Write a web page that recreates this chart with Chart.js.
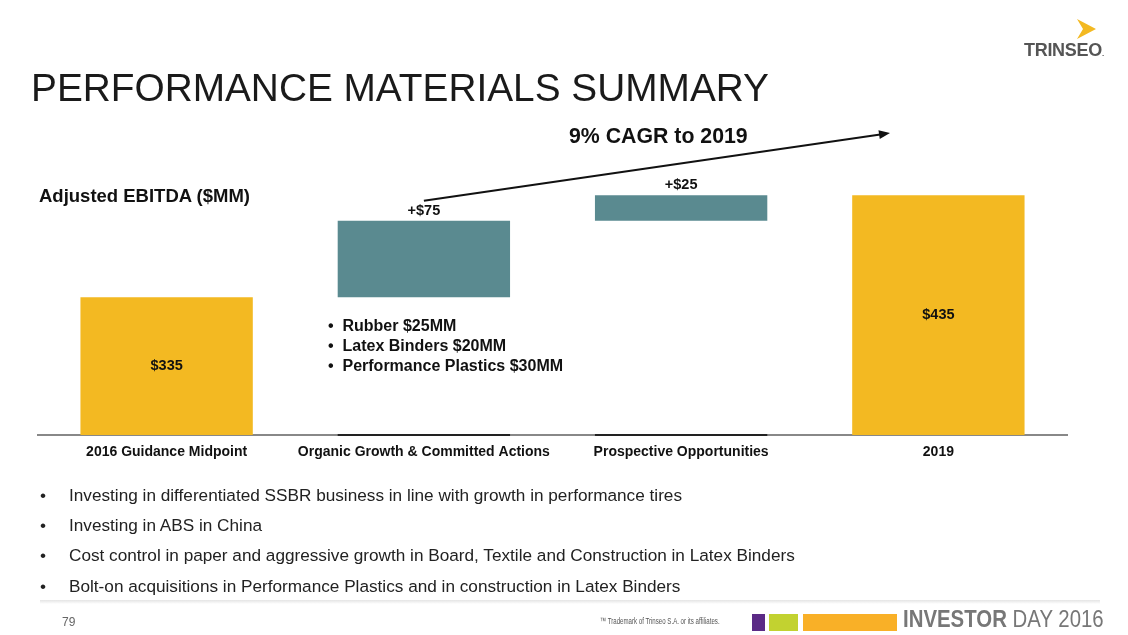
<!DOCTYPE html>
<html>
<head>
<meta charset="utf-8">
<script src="https://cdn.jsdelivr.net/npm/chart.js@4.4.0/dist/chart.umd.min.js"></script>
<style>
  html, body { margin: 0; padding: 0; background: #fff; }
  body { width: 1128px; height: 635px; position: relative; overflow: hidden; font-family: "Liberation Sans", Arial, sans-serif; color: #111; }
  #wrap { position: absolute; left: 0; top: 0; width: 1128px; height: 635px; }
  .abs { position: absolute; white-space: nowrap; }
  .title { left: 31px; top: 66px; font-size: 38.8px; color: #1a1a1a; }
  .sub { left: 39px; top: 185px; font-size: 18.5px; font-weight: bold; }
  .cagr { left: 569px; top: 124px; font-size: 21.3px; font-weight: bold; }
  .notes { left: 328px; top: 316px; font-size: 16px; font-weight: bold; line-height: 20px; }
  .bul { left: 40px; font-size: 17.2px; color: #222; }
  .bul span { position: absolute; left: 29px; }
  .foot { height: 4px; left: 40px; width: 1060px; top: 600px; background: linear-gradient(#e4e4e4, #fff); }
  .page { left: 62px; top: 615px; font-size: 12px; color: #666; }
  .tm { left: 600px; top: 616px; font-size: 9px; color: #555; transform: scaleX(0.68); transform-origin: left top; }
  .box { top: 614px; height: 17px; }
  .inv { left: 903px; top: 605px; font-size: 24px; color: #777; transform: scaleX(0.85); transform-origin: left top; }
  .logo { left: 1024px; top: 40px; font-size: 18px; color: #555; font-weight: bold; letter-spacing: -0.3px; }
</style>
</head>
<body>
<div id="wrap"><canvas id="chart" width="1128" height="635"></canvas></div>

<div class="abs title">PERFORMANCE MATERIALS SUMMARY</div>
<div class="abs sub">Adjusted EBITDA ($MM)</div>
<div class="abs cagr">9% CAGR to 2019</div>
<div class="abs notes">&bull;&nbsp; Rubber $25MM<br>&bull;&nbsp; Latex Binders $20MM<br>&bull;&nbsp; Performance Plastics $30MM</div>

<div class="abs bul" style="top:485px">&bull;<span>Investing in differentiated SSBR business in line with growth in performance tires</span></div>
<div class="abs bul" style="top:515px">&bull;<span>Investing in ABS in China</span></div>
<div class="abs bul" style="top:545px">&bull;<span>Cost control in paper and aggressive growth in Board, Textile and Construction in Latex Binders</span></div>
<div class="abs bul" style="top:576px">&bull;<span>Bolt-on acquisitions in Performance Plastics and in construction in Latex Binders</span></div>

<div class="abs foot"></div>
<div class="abs page">79</div>
<div class="abs tm">&trade; Trademark of Trinseo S.A. or its affiliates.</div>
<div class="abs box" style="left:752px;width:13px;background:#5b2a86"></div>
<div class="abs box" style="left:769px;width:29px;background:#c2d230"></div>
<div class="abs box" style="left:803px;width:94px;background:#f9b027"></div>
<div class="abs inv"><b>INVESTOR</b> DAY 2016</div>

<svg class="abs" style="left:1077px;top:19px" width="20" height="20" viewBox="0 0 20 20">
  <polygon points="0,0 19,10 0,20 6,10" fill="#f3b922"/>
</svg>
<div class="abs logo">TRINSEO<span style="font-size:8px">.</span></div>

<script>
// categories and waterfall values ($MM)
var categories = ['2016 Guidance Midpoint', 'Organic Growth & Committed Actions', 'Prospective Opportunities', '2019'];
var starts = [200, 335, 410, 200];
var ends = [335, 410, 435, 435];
var valueLabels = ['$335', '+$75', '+$25', '$435'];
var barColors = ['#f3b922', '#5a8a90', '#5a8a90', '#f3b922'];

var ranges = categories.map(function(c, i) { return [starts[i], ends[i]]; });

var overlay = {
    id: 'overlay',
    afterDatasetsDraw: function(chart) {
        var ctx = chart.ctx;
        var meta = chart.getDatasetMeta(0);
        var y = chart.scales.y;
        ctx.save();
        // dark base lines under floating bars
        ctx.strokeStyle = '#222';
        ctx.lineWidth = 2;
        meta.data.forEach(function(bar, i) {
            if (starts[i] > y.min) {
                ctx.beginPath();
                ctx.moveTo(bar.x - bar.width / 2, chart.chartArea.bottom);
                ctx.lineTo(bar.x + bar.width / 2, chart.chartArea.bottom);
                ctx.stroke();
            }
        });
        // value labels
        ctx.fillStyle = '#111';
        ctx.font = 'bold 14.5px "Liberation Sans", Arial, sans-serif';
        ctx.textAlign = 'center';
        ctx.textBaseline = 'middle';
        meta.data.forEach(function(bar, i) {
            if (starts[i] > y.min) {
                ctx.fillText(valueLabels[i], bar.x, y.getPixelForValue(ends[i]) - 10);
            } else {
                ctx.fillText(valueLabels[i], bar.x, (y.getPixelForValue(starts[i]) + y.getPixelForValue(ends[i])) / 2);
            }
        });
        // CAGR arrow
        var x0 = meta.data[1].x, y0 = y.getPixelForValue(ends[1]) - 20;
        var x1 = 890, y1 = 133;
        ctx.strokeStyle = '#111';
        ctx.lineWidth = 2;
        ctx.beginPath();
        ctx.moveTo(x0, y0);
        ctx.lineTo(x1 - 8, y1 + 1.2);
        ctx.stroke();
        var a = Math.atan2(y1 - y0, x1 - x0);
        ctx.fillStyle = '#111';
        ctx.beginPath();
        ctx.moveTo(x1, y1);
        ctx.lineTo(x1 - 11 * Math.cos(a) + 4.5 * Math.sin(a), y1 - 11 * Math.sin(a) - 4.5 * Math.cos(a));
        ctx.lineTo(x1 - 11 * Math.cos(a) - 4.5 * Math.sin(a), y1 - 11 * Math.sin(a) + 4.5 * Math.cos(a));
        ctx.closePath();
        ctx.fill();
        ctx.restore();
    }
};

new Chart(document.getElementById('chart'), {
    type: 'bar',
    data: {
        labels: categories,
        datasets: [{
            data: ranges,
            backgroundColor: barColors,
            borderWidth: 0,
            barPercentage: 0.67,
            categoryPercentage: 1
        }]
    },
    options: {
        responsive: false,
        animation: false,
        events: [],
        layout: {
            padding: { left: 38, right: 61, top: 180, bottom: 170 }
        },
        plugins: {
            legend: { display: false },
            tooltip: { enabled: false }
        },
        scales: {
            x: {
                grid: { display: false, drawTicks: false },
                border: { display: true, color: '#888', width: 2 },
                ticks: {
                    color: '#111',
                    padding: 9,
                    maxRotation: 0,
                    font: { family: '"Liberation Sans", Arial, sans-serif', size: 14, weight: 'bold' }
                },
                afterFit: function(scale) { scale.height = 30; }
            },
            y: {
                display: false,
                min: 200,
                max: 450
            }
        }
    },
    plugins: [overlay]
});
</script>
</body>
</html>
